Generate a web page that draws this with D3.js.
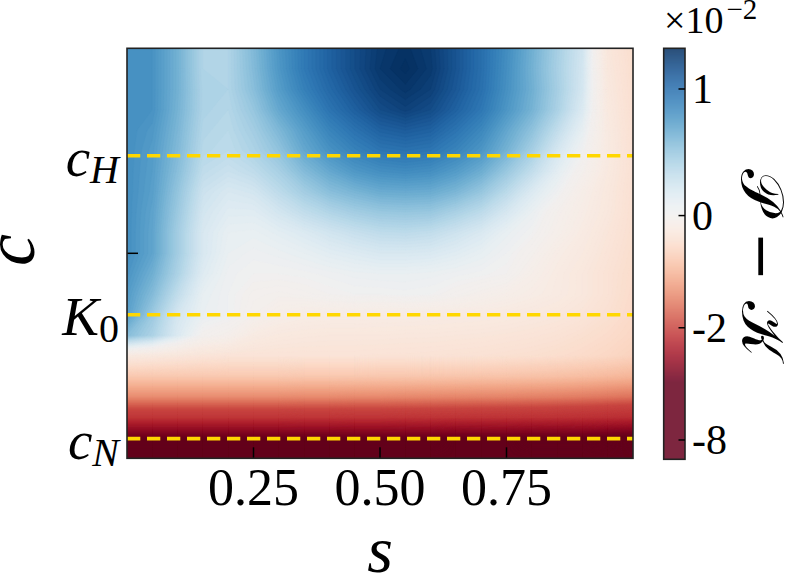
<!DOCTYPE html>
<html><head><meta charset="utf-8">
<script src="https://cdn.jsdelivr.net/npm/d3@7"></script>
<style>
body{margin:0;background:#fff}
svg{display:block}
text{font-family:"Liberation Serif","DejaVu Serif",serif;fill:#000}
</style>
</head><body>
<svg id="chart" width="789" height="576"></svg>
<script>
// ---------------- data ----------------
const sValues = [0,0.05,0.1,0.15,0.2,0.25,0.3,0.35,0.4,0.45,0.5,0.55,0.6,0.65,0.7,0.75,0.8,0.85,0.9,0.95,1.0];
const cValues = [1.0,0.95,0.9,0.85,0.8,0.75,0.7,0.65,0.6,0.55,0.5,0.45,0.4,0.35,0.3,0.25,0.2,0.15,0.1,0.05,0.0];
// P - K (units of 1e-2); one row per c value (top to bottom), one column per s value
const field = [
 [0.82,0.80,0.63,0.40,0.40,0.58,0.78,0.94,1.07,1.18,1.27,1.31,1.26,1.14,1.00,0.83,0.64,0.44,0.24,-0.32,-0.48],
 [0.82,0.80,0.63,0.40,0.40,0.57,0.77,0.94,1.07,1.18,1.28,1.33,1.27,1.14,1.00,0.82,0.63,0.43,0.23,-0.30,-0.47],
 [0.82,0.80,0.63,0.41,0.40,0.55,0.74,0.90,1.03,1.14,1.24,1.29,1.24,1.12,0.99,0.81,0.64,0.44,0.22,-0.28,-0.46],
 [0.82,0.80,0.62,0.41,0.38,0.50,0.68,0.82,0.97,1.08,1.18,1.23,1.18,1.07,0.95,0.78,0.62,0.42,0.18,-0.26,-0.45],
 [0.82,0.77,0.60,0.39,0.36,0.45,0.59,0.74,0.88,0.98,1.07,1.10,1.07,0.97,0.86,0.69,0.53,0.32,0.10,-0.24,-0.44],
 [0.82,0.75,0.58,0.37,0.34,0.41,0.52,0.68,0.80,0.89,0.96,0.98,0.96,0.88,0.78,0.62,0.44,0.22,0.03,-0.24,-0.43],
 [0.82,0.74,0.55,0.33,0.28,0.33,0.43,0.57,0.68,0.77,0.82,0.84,0.82,0.75,0.65,0.49,0.32,0.13,-0.05,-0.26,-0.43],
 [0.82,0.73,0.51,0.27,0.20,0.23,0.34,0.45,0.55,0.61,0.66,0.67,0.66,0.60,0.50,0.35,0.18,0.04,-0.14,-0.29,-0.44],
 [0.82,0.71,0.48,0.23,0.15,0.15,0.23,0.32,0.39,0.45,0.49,0.50,0.49,0.42,0.34,0.21,0.08,-0.06,-0.18,-0.30,-0.45],
 [0.82,0.70,0.45,0.20,0.10,0.09,0.13,0.18,0.24,0.29,0.33,0.34,0.32,0.26,0.19,0.09,0.02,-0.10,-0.22,-0.34,-0.46],
 [0.82,0.70,0.45,0.20,0.08,0.05,0.07,0.10,0.14,0.17,0.20,0.20,0.19,0.15,0.10,0.04,-0.05,-0.18,-0.26,-0.37,-0.48],
 [0.79,0.64,0.41,0.16,0.05,0.02,0.02,0.03,0.05,0.07,0.08,0.08,0.07,0.05,0.03,0.00,-0.12,-0.22,-0.30,-0.40,-0.50],
 [0.75,0.57,0.32,0.10,0.04,-0.03,-0.05,-0.03,0.00,0.02,0.02,0.03,0.02,-0.03,-0.08,-0.13,-0.18,-0.23,-0.30,-0.40,-0.52],
 [0.72,0.48,0.22,0.08,0.04,-0.06,-0.14,-0.18,-0.19,-0.19,-0.20,-0.20,-0.21,-0.22,-0.23,-0.25,-0.28,-0.31,-0.36,-0.44,-0.54],
 [0.56,0.41,0.18,-0.02,-0.08,-0.22,-0.27,-0.29,-0.30,-0.30,-0.30,-0.31,-0.31,-0.32,-0.33,-0.35,-0.37,-0.40,-0.45,-0.51,-0.58],
 [-0.25,-0.28,-0.32,-0.36,-0.38,-0.38,-0.38,-0.38,-0.38,-0.38,-0.39,-0.39,-0.40,-0.41,-0.42,-0.44,-0.46,-0.49,-0.53,-0.58,-0.65],
 [-0.78,-0.78,-0.78,-0.78,-0.78,-0.78,-0.78,-0.79,-0.79,-0.79,-0.80,-0.80,-0.81,-0.82,-0.83,-0.84,-0.86,-0.88,-0.91,-0.95,-1.00],
 [-1.40,-1.40,-1.40,-1.40,-1.40,-1.40,-1.40,-1.41,-1.41,-1.42,-1.42,-1.43,-1.44,-1.45,-1.46,-1.47,-1.49,-1.51,-1.54,-1.58,-1.62],
 [-2.40,-2.40,-2.40,-2.40,-2.40,-2.40,-2.40,-2.41,-2.41,-2.42,-2.42,-2.43,-2.44,-2.45,-2.46,-2.47,-2.49,-2.51,-2.54,-2.58,-2.62],
 [-4.90,-4.90,-4.90,-4.90,-4.90,-4.90,-4.90,-4.90,-4.90,-4.90,-4.90,-4.90,-4.90,-4.95,-4.95,-4.95,-5.00,-5.00,-5.00,-5.10,-5.20],
 [-7.00,-7.00,-7.00,-7.00,-7.00,-7.00,-7.00,-7.00,-7.00,-7.00,-7.00,-7.00,-7.00,-7.00,-7.00,-7.00,-7.00,-7.00,-7.00,-7.00,-7.00]
];
const xTickValues = [0.25, 0.5, 0.75];
const xTickLabels = ["0.25", "0.50", "0.75"];
const yTickValues = [0.048, 0.35, 0.5, 0.738];
const yTickLabels = [
  {main:"c", sub:"N", mainItalic:true, subItalic:true},
  {main:"K", sub:"0", mainItalic:true, subItalic:false},
  null,
  {main:"c", sub:"H", mainItalic:true, subItalic:true}
];
const refLineValues = [0.738, 0.35, 0.048];
const cbTickValues = [1, 0, -2, -8];
const cbTickLabels = ["1", "0", "-2", "-8"];
// colorbar breakpoints (value) and their relative position along the bar
const cbBreaks = [-10.2, -8, -2, 0, 1, 1.32];
const cbFracs  = [0, 0.047, 0.32, 0.593, 0.901, 1];

// ---------------- layout ----------------
const svg = d3.select("#chart");
const L = 127, R = 633, T = 48.3, B = 458.3;
const xScale = d3.scaleLinear().domain([0, 1]).range([L, R]);
const yScale = d3.scaleLinear().domain([0, 1]).range([B, T]);

const fracScale = d3.scaleLinear().domain(cbBreaks).range(cbFracs).clamp(true);
const f0 = fracScale(0);
function color(v) {
  const f = fracScale(v);
  const t = 0.5 + 0.5 * (f - f0) / (1 - f0);
  return d3.interpolateRdBu(Math.max(0, Math.min(1, t)));
}

// ---------------- heatmap (filled contours) ----------------
svg.append("defs").append("clipPath").attr("id", "clip")
  .append("rect").attr("x", L).attr("y", T).attr("width", R - L).attr("height", B - T);

const nx = sValues.length, ny = cValues.length;
const flat = field.flat();
const step = 0.02;
const thresholds = d3.range(-7.6, 1.36, step);
const contours = d3.contours().size([nx, ny]).thresholds(thresholds)(flat);
const ds = sValues[1] - sValues[0];
const dc = cValues[0] - cValues[1];
const proj = d3.geoTransform({
  point(x, y) {
    this.stream.point(xScale(sValues[0] + (x - 0.5) * ds), yScale(cValues[0] - (y - 0.5) * dc));
  }
});
const path = d3.geoPath(proj);
svg.append("g").attr("clip-path", "url(#clip)")
  .selectAll("path").data(contours).join("path")
  .attr("d", path)
  .attr("fill", d => color(d.value + step / 2))
  .attr("stroke", d => color(d.value + step / 2))
  .attr("stroke-width", 0.3);

// ---------------- axes ----------------
const axG = svg.append("g");
// x ticks (inward)
axG.selectAll(".xt").data(xTickValues).join("line")
  .attr("x1", d => xScale(d)).attr("x2", d => xScale(d))
  .attr("y1", B).attr("y2", B - 11)
  .attr("stroke", "#000").attr("stroke-width", 1.5);
axG.selectAll(".xl").data(xTickValues).join("text")
  .attr("x", d => xScale(d)).attr("y", 505)
  .attr("text-anchor", "middle").attr("font-size", 52)
  .text((d, i) => xTickLabels[i]);
// y ticks (inward)
axG.selectAll(".yt").data(yTickValues).join("line")
  .attr("x1", L).attr("x2", L + 11)
  .attr("y1", d => yScale(d)).attr("y2", d => yScale(d))
  .attr("stroke", "#000").attr("stroke-width", 1.5);
yTickValues.forEach((v, i) => {
  const lab = yTickLabels[i];
  if (!lab) return;
  const t = axG.append("text")
    .attr("x", 119).attr("y", yScale(v) + 20.5)
    .attr("text-anchor", "end");
  t.append("tspan").attr("font-size", 55)
    .attr("font-style", lab.mainItalic ? "italic" : "normal").text(lab.main);
  t.append("tspan").attr("font-size", 40).attr("dy", 7)
    .attr("font-style", lab.subItalic ? "italic" : "normal").text(lab.sub);
});
// axis labels
svg.append("text").attr("x", 380).attr("y", 572).attr("text-anchor", "middle")
  .attr("font-size", 66).attr("font-style", "italic").text("s");
svg.append("text").attr("transform", "translate(34,250) rotate(-90)")
  .attr("text-anchor", "middle").attr("font-size", 72).attr("font-style", "italic").text("c");

// reference dashed lines
svg.append("g").selectAll("line").data(refLineValues).join("line")
  .attr("x1", L).attr("x2", R)
  .attr("y1", d => yScale(d)).attr("y2", d => yScale(d))
  .attr("stroke", "#ffd700").attr("stroke-width", 3.6)
  .attr("stroke-dasharray", "13.3,6.7");

// frame
svg.append("rect").attr("x", L).attr("y", T).attr("width", R - L).attr("height", B - T)
  .attr("fill", "none").attr("stroke", "#222").attr("stroke-width", 1.6);

// ---------------- colorbar ----------------
const cbL = 663.7, cbW = 21.3, cbT = 48.3, cbB = 459.3;
const cbY = d3.scaleLinear().domain([0, 1]).range([cbB, cbT]);
const cbG = svg.append("g");
const rows = d3.range(cbT, cbB, 1);
cbG.selectAll("rect.cb").data(rows).join("rect")
  .attr("x", cbL).attr("width", cbW)
  .attr("y", d => d).attr("height", 1.2)
  .attr("fill", d => color(fracScale.invert(cbY.invert(d + 0.5))));
cbG.append("rect").attr("x", cbL).attr("y", cbT).attr("width", cbW).attr("height", cbB - cbT)
  .attr("fill", "none").attr("stroke", "#222").attr("stroke-width", 1.6);
cbG.selectAll("line.cbt").data(cbTickValues).join("line")
  .attr("x1", cbL + cbW - 6.5).attr("x2", cbL + cbW)
  .attr("y1", d => cbY(fracScale(d))).attr("y2", d => cbY(fracScale(d)))
  .attr("stroke", "#000").attr("stroke-width", 1.5);
cbG.selectAll("text.cbl").data(cbTickValues).join("text")
  .attr("x", 692).attr("y", d => cbY(fracScale(d)) + 14)
  .attr("font-size", 42)
  .text((d, i) => cbTickLabels[i]);
// offset text
const off = svg.append("text").attr("x", 664).attr("y", 33).attr("font-size", 38);
off.append("tspan").text("×10");
off.append("tspan").attr("dx", 3).attr("dy", -14).attr("font-size", 29).text("−2");
// colorbar label
svg.append("text").attr("transform", "translate(742,263) rotate(90)")
  .attr("text-anchor", "middle").attr("font-size", 60)
  .style("font-family", "'DejaVu Serif','DejaVu Sans','Noto Sans',serif")
  .text("𝒫 − 𝒦");
</script>
</body></html>
